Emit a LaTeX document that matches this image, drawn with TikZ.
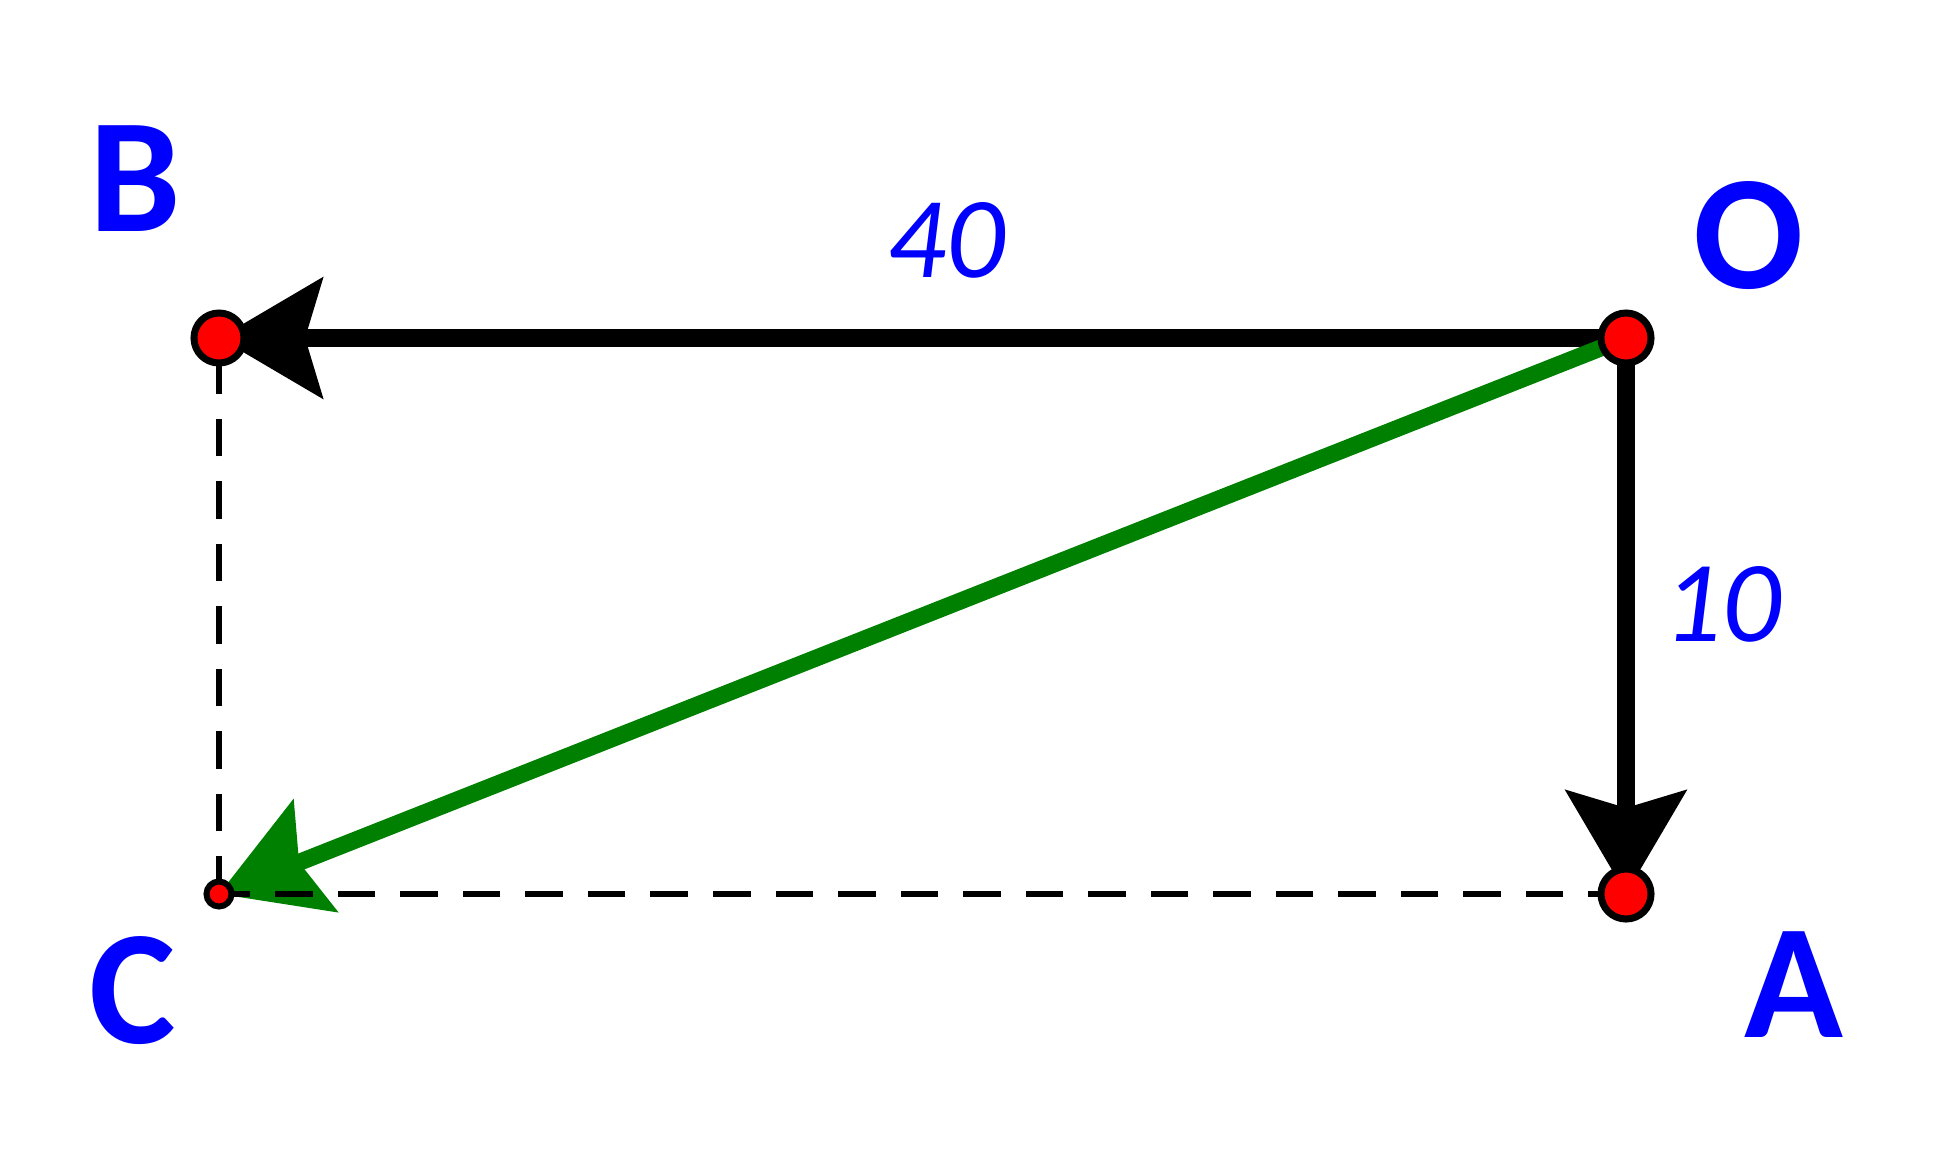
\documentclass[tikz,border=0pt]{standalone}
\usepackage{fontspec}
\newfontfamily\labfont{Carlito}
\usetikzlibrary{arrows.meta}
\definecolor{ptred}{RGB}{255,0,0}
\definecolor{labblue}{RGB}{0,0,255}
\definecolor{vecgreen}{RGB}{0,128,0}
\tikzset{
  pt/.style={circle, draw=black, fill=ptred, line width=0.07cm, minimum size=0.5cm, inner sep=0pt},
  smallpt/.style={circle, draw=black, fill=ptred, line width=0.06cm, minimum size=0.25cm, inner sep=0pt},
  letterlab/.style={text=labblue, inner sep=0pt, font=\labfont\bfseries\fontsize{46.4pt}{50pt}\selectfont},
  numlab/.style={text=labblue, inner sep=0pt, font=\labfont\itshape\fontsize{32.9pt}{36pt}\selectfont},
  bigtip/.tip={Stealth[length=1.03cm, width=1.19cm, inset=0.17cm]},
  vec/.style={line width=0.18cm, -bigtip},
  guide/.style={line width=0.06cm, dash pattern=on 0.375cm off 0.25cm}
}
\begin{document}
\begin{tikzpicture}[x=0.01cm, y=-0.01cm]
\useasboundingbox (0,0) rectangle (1939,1163);
\coordinate (O) at (1626,338);
\coordinate (B) at (219,338);
\coordinate (A) at (1626,894);
\coordinate (C) at (219,894);
% vectors
\draw[vec, black] (O) -- (B);
\draw[vec, black] (O) -- (A);
\draw[vec, vecgreen, line width=0.17cm] (O) -- (C);
% dashed guides (drawn over the vectors)
\draw[guide] (C) -- (B);
\draw[guide] (A) -- (C);
% point markers
\node[pt] (Om) at (O) {};
\node[pt] (Bm) at (B) {};
\node[pt] (Am) at (A) {};
\node[smallpt] (Cm) at (C) {};
% labels
\node[letterlab] (lB) at (135.5,178.5) {B};
\node[letterlab] (lO) at (1749,235.5) {O};
\node[letterlab] (lC) at (133,991) {C};
\node[letterlab] (lA) at (1793.5,985) {A};
\node[numlab] (l40) at (946,240) {40};
\node[numlab] (l10) at (1722.5,604) {10};
\end{tikzpicture}
\end{document}
